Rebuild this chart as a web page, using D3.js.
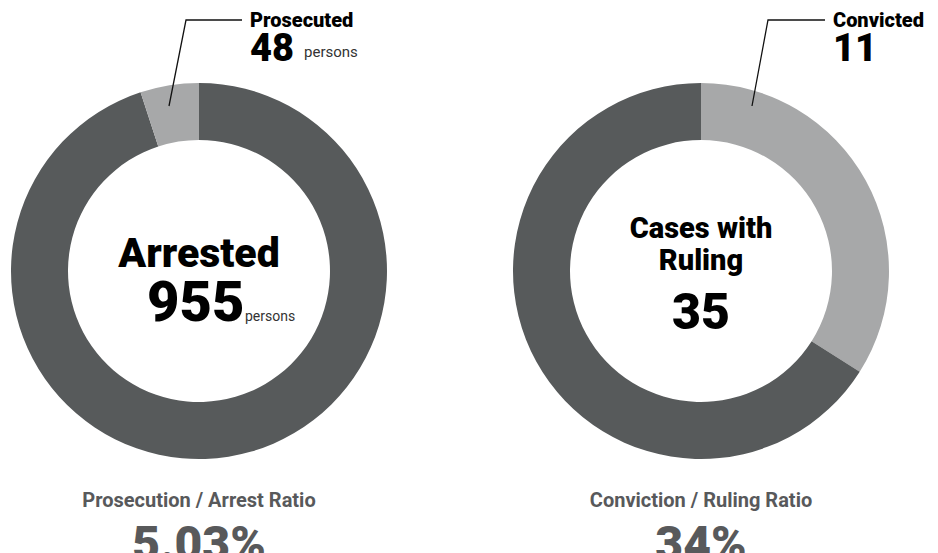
<!DOCTYPE html>
<html>
<head>
<meta charset="utf-8">
<script src="https://cdn.jsdelivr.net/npm/d3@7"></script>
<style>
  body { margin: 0; background: #fff; }
  text { font-family: Roboto, "DejaVu Sans Condensed", sans-serif; }
</style>
</head>
<body>
<div id="chart"></div>
<script>
// data
const centerTitles = [["Arrested"], ["Cases with", "Ruling"]];
const totals = [955, 35];
const totalUnits = ["persons", ""];
const partLabels = ["Prosecuted", "Convicted"];
const partValues = [48, 11];
const partUnits = ["persons", ""];
const ratioLabels = ["Prosecution / Arrest Ratio", "Conviction / Ruling Ratio"];
const ratioValues = [5.03, 34];
const ratioText = ["5.03%", "34%"];

const width = 938, height = 553;
const dark = "#575a5b", light = "#a7a8a9", grey = "#58595b";

let svg = d3.select("#chart").append("svg")
    .attr("width", width)
    .attr("height", height);

// two donuts side by side
let x = d3.scaleLinear().domain([0, 1]).range([199, 701]);
let cy = 271;
let arc = d3.arc().innerRadius(131).outerRadius(188);

// left one draws the small slice counter-clockwise, right one clockwise
let pies = [
    d3.pie().sort(null)([100 - ratioValues[0], ratioValues[0]]).map((d, i) => ({...d, part: i === 1})),
    d3.pie().sort(null)([ratioValues[1], 100 - ratioValues[1]]).map((d, i) => ({...d, part: i === 0}))
];

// leader line offsets from donut center
let leaders = [
    [[43, -251], [-13, -251], [-30, -165]],
    [[124, -251], [67, -251], [51, -165]]
];

function label(g, size, weight, fill) {
    return g.append("text")
        .style("font-size", size + "px")
        .style("font-weight", weight)
        .attr("fill", fill);
}

pies.forEach(function(p, k) {
    let g = svg.append("g").attr("transform", "translate(" + x(k) + "," + cy + ")");

    g.selectAll("path")
        .data(p)
        .enter()
        .append("path")
        .attr("d", arc)
        .attr("fill", d => d.part ? light : dark);

    g.append("path")
        .attr("d", d3.line()(leaders[k]))
        .attr("fill", "none")
        .attr("stroke", "#111")
        .attr("stroke-width", 1.3);

    // callout
    let lx = leaders[k][0][0] + 8;
    label(g, 20, 900, "#000").attr("x", lx).attr("y", -244).text(partLabels[k]);
    label(g, 38, 900, "#000").attr("x", lx).attr("y", -210).text(partValues[k]);
    if (partUnits[k]) {
        label(g, 15, 400, "#333").attr("x", lx + 54).attr("y", -214).text(partUnits[k]);
    }

    // center text
    if (k === 0) {
        label(g, 41, 900, "#000").attr("text-anchor", "middle").attr("y", -4)
            .text(centerTitles[k][0]);
        label(g, 56, 900, "#000").attr("x", -52).attr("y", 50).text(totals[k]);
        label(g, 14, 400, "#333").attr("x", 46).attr("y", 50).text(totalUnits[k]);
    } else {
        centerTitles[k].forEach(function(s, i) {
            label(g, 29, 900, "#000").attr("text-anchor", "middle").attr("y", -33 + i * 32).text(s);
        });
        label(g, 50, 900, "#000").attr("text-anchor", "middle").attr("y", 58).text(totals[k]);
    }

    // ratio below
    label(g, 20, 700, grey).attr("text-anchor", "middle").attr("y", 236).text(ratioLabels[k]);
    label(g, 48, 900, grey).attr("text-anchor", "middle").attr("y", 289).text(ratioText[k]);
});
</script>
</body>
</html>
